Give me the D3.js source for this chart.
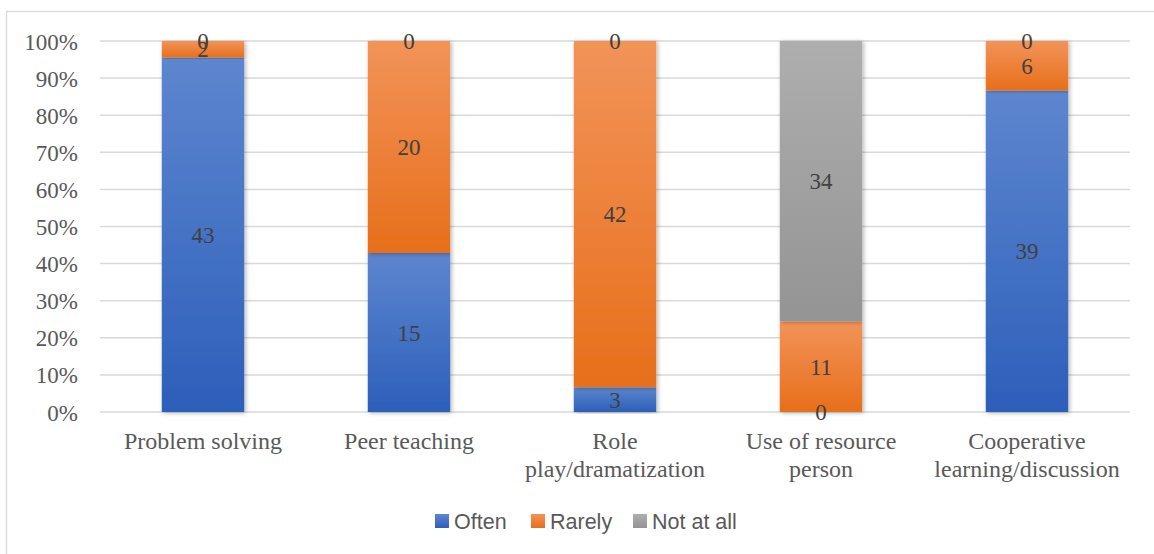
<!DOCTYPE html>
<html>
<head>
<meta charset="utf-8">
<script src="https://cdn.jsdelivr.net/npm/d3@7"></script>
<style>
  html, body { margin: 0; padding: 0; background: #fff; }
  svg { display: block; }
</style>
</head>
<body>
<svg id="chart" width="1154" height="554"></svg>
<script>
// Teaching methods and how often each is used (respondent counts)
const categories = ["Problem solving", "Peer teaching", "Role play/dramatization", "Use of resource person", "Cooperative learning/discussion"];
const seriesNames = ["Often", "Rarely", "Not at all"];
const often = [43, 15, 3, 0, 39];
const rarely = [2, 20, 42, 11, 6];
const notAtAll = [0, 0, 0, 34, 0];
const tickValues = [0, 0.1, 0.2, 0.3, 0.4, 0.5, 0.6, 0.7, 0.8, 0.9, 1];

const seriesValues = [often, rarely, notAtAll];
const colorTop = ["#5E86CF", "#F29359", "#AEAEAE"];
const colorBottom = ["#2C5FBA", "#E76F1A", "#949494"];

const svg = d3.select("#chart");
const W = 1154, H = 554;
const plot = { left: 100, right: 1130, top: 41, bottom: 412 };
const serif = "'Liberation Serif', 'Times New Roman', serif";

// chart frame
svg.append("rect")
  .attr("x", 6.5).attr("y", 11.5)
  .attr("width", W + 10).attr("height", H + 10)
  .attr("fill", "#fff").attr("stroke", "#d9d9d9").attr("stroke-width", 1.3);

const defs = svg.append("defs");
seriesNames.forEach((s, i) => {
  const g = defs.append("linearGradient")
    .attr("id", "grad" + i)
    .attr("x1", 0).attr("y1", 0).attr("x2", 0).attr("y2", 1);
  g.append("stop").attr("offset", "0%").attr("stop-color", colorTop[i]);
  g.append("stop").attr("offset", "100%").attr("stop-color", colorBottom[i]);
});
const shadow = defs.append("filter").attr("id", "shadow")
  .attr("x", "-20%").attr("y", "-5%").attr("width", "140%").attr("height", "110%");
shadow.append("feDropShadow")
  .attr("dx", 1.5).attr("dy", 1).attr("stdDeviation", 2)
  .attr("flood-color", "#000").attr("flood-opacity", 0.3);

const x = d3.scaleBand().domain(categories).range([plot.left, plot.right]).paddingInner(0.6).paddingOuter(0.3);
const y = d3.scaleLinear().domain([0, 1]).range([plot.bottom, plot.top]);

// gridlines
svg.append("g").selectAll("line").data(tickValues).join("line")
  .attr("x1", plot.left).attr("x2", plot.right)
  .attr("y1", d => y(d)).attr("y2", d => y(d))
  .attr("stroke", "#d9d9d9").attr("stroke-width", 1.5);

// y axis labels
const yAxis = d3.axisLeft(y).tickValues(tickValues).tickFormat(d3.format(".0%")).tickSize(0).tickPadding(0);
const ya = svg.append("g").attr("transform", `translate(78,0)`).call(yAxis);
ya.select(".domain").remove();
ya.selectAll("text")
  .attr("font-family", serif)
  .attr("font-size", 23).attr("fill", "#595959").attr("dy", "0.35em");

// stacked (100%) data
const rows = categories.map((c, j) => {
  const r = { category: c };
  seriesNames.forEach((s, i) => r[s] = seriesValues[i][j]);
  return r;
});
const stack = d3.stack().keys(seriesNames).offset(d3.stackOffsetExpand);
const layers = stack(rows);

const barG = svg.append("g");
layers.forEach((layer, i) => {
  barG.append("g").selectAll("rect").data(layer).join("rect")
    .attr("x", d => x(d.data.category))
    .attr("width", x.bandwidth())
    .attr("y", d => y(d[1]))
    .attr("height", d => y(d[0]) - y(d[1]))
    .attr("fill", `url(#grad${i})`)
    .attr("filter", "url(#shadow)");
});

// value labels
const labG = svg.append("g");
layers.forEach((layer, i) => {
  labG.append("g").selectAll("text").data(layer).join("text")
    .attr("x", d => x(d.data.category) + x.bandwidth() / 2)
    .attr("y", d => y((d[0] + d[1]) / 2))
    .attr("dy", "0.35em")
    .attr("text-anchor", "middle")
    .attr("font-family", serif)
    .attr("font-size", 23).attr("fill", "#404040")
    .text(d => d.data[layer.key]);
});

// category labels, wrapped to the band width
const catG = svg.append("g");
categories.forEach(c => {
  const t = catG.append("text")
    .attr("text-anchor", "middle")
    .attr("font-family", serif)
    .attr("font-size", 24).attr("fill", "#595959");
  const cx = x(c) + x.bandwidth() / 2;
  const words = c.split(" ");
  const lines = [];
  let line = [];
  const probe = t.append("tspan");
  words.forEach(w => {
    line.push(w);
    probe.text(line.join(" "));
    if (probe.node().getComputedTextLength() > x.step() * 0.95 && line.length > 1) {
      line.pop();
      lines.push(line.join(" "));
      line = [w];
    }
  });
  lines.push(line.join(" "));
  probe.remove();
  lines.forEach((l, k) => {
    t.append("tspan").attr("x", cx).attr("y", 441 + k * 28).attr("dy", "0.35em").text(l);
  });
});

// legend
const legend = svg.append("g");
const legendX = [435, 531, 633];
seriesNames.forEach((s, i) => {
  legend.append("rect")
    .attr("x", legendX[i]).attr("y", 514).attr("width", 14).attr("height", 14)
    .attr("fill", `url(#grad${i})`);
  legend.append("text")
    .attr("x", legendX[i] + 19).attr("y", 521).attr("dy", "0.35em")
    .attr("font-family", "'Liberation Sans', Arial, sans-serif")
    .attr("font-size", 21.5).attr("fill", "#595959")
    .text(s);
});
</script>
</body>
</html>
